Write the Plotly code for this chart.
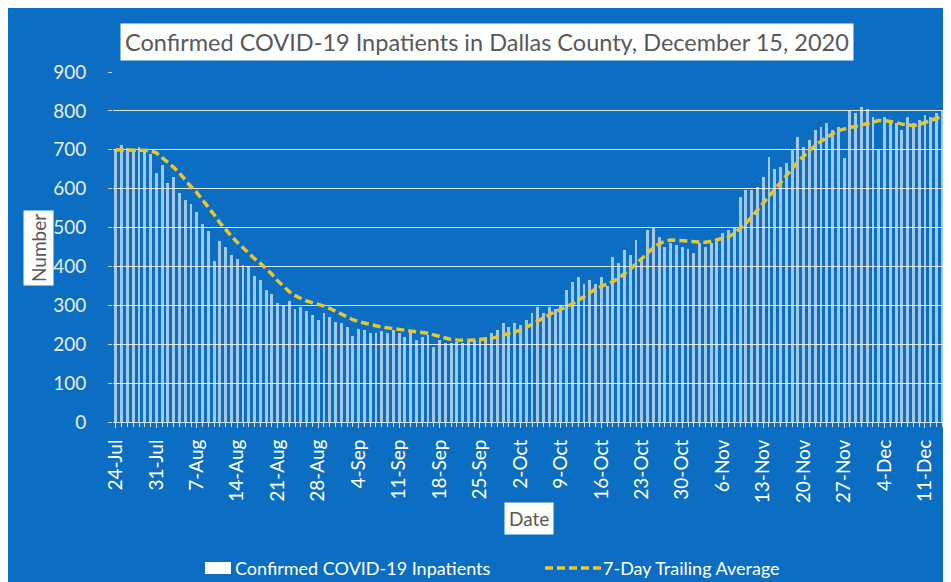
import pandas as pd
import plotly.graph_objects as go

start_date = "2020-07-24"

inpatients = [
    700, 712, 705, 700, 708, 695, 690, 640, 660, 615,
    630, 590, 570, 560, 540, 510, 490, 415, 465, 450,
    430, 420, 405, 400, 375, 365, 340, 330, 305, 300,
    310, 290, 295, 285, 275, 262, 280, 270, 258, 254,
    245, 220, 238, 236, 230, 230, 235, 229, 236, 229,
    219, 232, 211, 219, 225, 193, 211, 202, 202, 206,
    202, 206, 210, 211, 219, 229, 236, 254, 244, 254,
    250, 262, 280, 296, 280, 296, 290, 300, 339, 360,
    373, 356, 365, 356, 373, 350, 424, 409, 442, 430,
    468, 416, 494, 499, 476, 450, 460, 455, 450, 445,
    434, 460, 450, 460, 468, 486, 494, 500, 578, 596,
    596, 604, 630, 681, 650, 656, 665, 699, 733, 707,
    725, 751, 758, 768, 751, 758, 680, 802, 794, 810,
    805, 784, 700, 784, 776, 768, 751, 784, 768, 776,
    790, 784, 795, 800, 835,
]

trailing_avg = [
    700, 700, 699, 700, 700, 699, 698, 692, 680, 668,
    655, 640, 622, 605, 590, 572, 553, 533, 512, 494,
    478, 462, 447, 432, 420, 408, 395, 380, 363, 348,
    335, 325, 317, 311, 307, 303, 298, 292, 285, 277,
    269, 263, 258, 254, 250, 247, 244, 242, 240, 238,
    237, 235, 233, 231, 228, 224, 220, 215, 212, 211,
    210, 210, 211, 212, 213, 215, 219, 223, 227, 231,
    236, 243, 251, 259, 268, 277, 284, 290, 296, 304,
    313, 323, 334, 342, 349, 355, 361, 370, 381, 393,
    406, 420, 435, 448, 458, 465, 468, 467, 465, 463,
    462, 461, 462, 465, 468, 471, 476, 485, 497, 511,
    527, 545, 563, 582, 600, 618, 636, 653, 669, 684,
    698, 711, 722, 732, 741, 749, 754, 758, 760, 764,
    769, 773, 775, 775, 773, 770, 766, 763, 762, 765,
    770, 774, 779, 786, 793,
]

tick_labels = ["24-Jul", "31-Jul", "7-Aug", "14-Aug", "21-Aug", "28-Aug", "4-Sep",
               "11-Sep", "18-Sep", "25-Sep", "2-Oct", "9-Oct", "16-Oct", "23-Oct",
               "30-Oct", "6-Nov", "13-Nov", "20-Nov", "27-Nov", "4-Dec", "11-Dec"]

series_names = ["Confirmed COVID-19 Inpatients", "7-Day Trailing Average"]

dates = pd.date_range(start_date, periods=len(inpatients), freq="D")
tick_vals = list(dates[::7])[:len(tick_labels)]

BG = "#0b6ec2"
FONT = "Lato"
BAR_COLOR = "rgba(255,255,255,0.62)"
LINE_COLOR = "#e9c62c"
LINE_DASH = "8px,4px"

fig = go.Figure()
fig.add_trace(go.Bar(
    x=dates, y=inpatients, name=series_names[0],
    marker=dict(color=BAR_COLOR, line=dict(width=0)),
    width=0.5 * 86400000, showlegend=False,
))
fig.add_trace(go.Scatter(
    x=dates, y=trailing_avg, name=series_names[1], mode="lines",
    line=dict(color=LINE_COLOR, width=3.5, dash=LINE_DASH), showlegend=False,
))

# page is offset by 8px body margin; figure is 943 x 574
OFF = 8
W, H = 951 - OFF, 582 - OFF
L, R, T = 113 - OFF, 0, 72 - OFF
B = H - (422 - OFF)
pw, ph = W - L - R, H - T - B

def px_x(x):
    return (x - OFF - L) / pw

def px_y(y):
    return (H - B - (y - OFF)) / ph

fig.update_layout(
    width=W, height=H,
    margin=dict(l=L, r=R, t=T, b=B),
    paper_bgcolor=BG, plot_bgcolor=BG,
    font=dict(family=FONT, color="white", size=18),
    showlegend=False,
    bargap=0,
)
fig.update_xaxes(
    type="date",
    range=[dates[0] - pd.Timedelta(hours=12), dates[-1] + pd.Timedelta(hours=12)],
    tickvals=tick_vals, ticktext=tick_labels, tickangle=-90,
    tickfont=dict(size=19, color="white", family=FONT),
    showgrid=False, showline=True, linecolor="#cfe3f5", linewidth=1,
    ticks="outside", ticklen=5, tickcolor="#cfe3f5",
    minor=dict(dtick=86400000, tick0=start_date, ticks="outside", ticklen=4, tickcolor="#cfe3f5", showgrid=False),
    ticklabelstandoff=4,
)
fig.update_yaxes(
    range=[0, 900], dtick=100, tick0=0,
    showgrid=True, gridcolor="rgba(255,255,255,0.85)", gridwidth=1,
    zeroline=False, showline=False,
    ticks="outside", ticklen=4, tickcolor="rgba(255,255,255,0.7)",
    tickfont=dict(size=19, color="#e4edf6", family=FONT),
    ticklabelstandoff=18,
)

fig.add_annotation(
    text="Confirmed COVID-19 Inpatients in Dallas County, December 15, 2020",
    xref="paper", yref="paper", x=px_x(487), y=px_y(42), xanchor="center", yanchor="middle",
    showarrow=False, bgcolor="white", borderpad=4,
    font=dict(size=23.5, color="#595959", family=FONT),
)
fig.add_annotation(
    text="Number", xref="paper", yref="paper", x=px_x(38), y=px_y(248),
    xanchor="center", yanchor="middle", textangle=-90, showarrow=False,
    bgcolor="white", borderpad=3, font=dict(size=19, color="#595959", family=FONT),
)
fig.add_annotation(
    text="Date", xref="paper", yref="paper", x=px_x(529), y=px_y(518),
    xanchor="center", yanchor="middle", showarrow=False,
    bgcolor="white", borderpad=4, font=dict(size=19, color="#595959", family=FONT),
)

# custom legend
leg_y = 568
fig.add_shape(type="rect", xref="paper", yref="paper",
              x0=px_x(205), x1=px_x(231), y0=px_y(574), y1=px_y(562),
              fillcolor="white", line=dict(width=0))
fig.add_annotation(text=series_names[0], xref="paper", yref="paper", x=px_x(233), y=px_y(leg_y),
                   xanchor="left", yanchor="middle", showarrow=False,
                   font=dict(size=18, color="white", family=FONT))
fig.add_shape(type="line", xref="paper", yref="paper",
              x0=px_x(545), x1=px_x(601), y0=px_y(leg_y), y1=px_y(leg_y),
              line=dict(color=LINE_COLOR, width=3.5, dash=LINE_DASH))
fig.add_annotation(text=series_names[1], xref="paper", yref="paper", x=px_x(601), y=px_y(leg_y),
                   xanchor="left", yanchor="middle", showarrow=False,
                   font=dict(size=18, color="white", family=FONT))

fig.write_html("out.html")
